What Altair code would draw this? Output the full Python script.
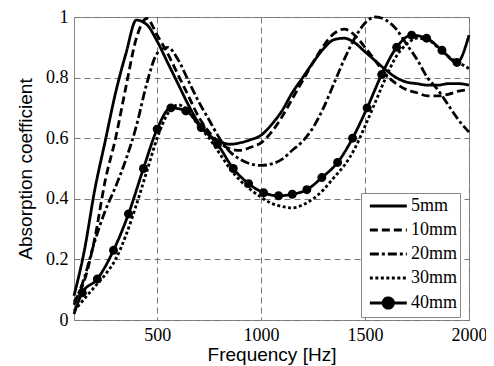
import altair as alt
import pandas as pd

freq = list(range(100, 2001, 50))

mm5 = [0.08, 0.23, 0.43, 0.59, 0.75, 0.88, 0.99, 0.975, 0.92, 0.85, 0.78, 0.71, 0.65, 0.61, 0.59, 0.58,
       0.585, 0.595, 0.61, 0.645, 0.69, 0.75, 0.80, 0.85, 0.895, 0.925, 0.93, 0.915, 0.885, 0.855, 0.825,
       0.80, 0.785, 0.78, 0.775, 0.775, 0.78, 0.78, 0.775]
mm10 = [0.06, 0.13, 0.27, 0.46, 0.60, 0.77, 0.93, 0.995, 0.94, 0.88, 0.81, 0.74, 0.67, 0.62, 0.585, 0.565,
        0.56, 0.57, 0.585, 0.62, 0.67, 0.73, 0.79, 0.85, 0.905, 0.945, 0.96, 0.94, 0.90, 0.855, 0.81,
        0.78, 0.76, 0.75, 0.74, 0.74, 0.745, 0.755, 0.76]
mm20 = [0.05, 0.14, 0.26, 0.36, 0.44, 0.53, 0.64, 0.78, 0.88, 0.90, 0.86, 0.79, 0.72, 0.66, 0.60, 0.555,
        0.53, 0.515, 0.51, 0.515, 0.53, 0.56, 0.59, 0.635, 0.70, 0.78, 0.86, 0.93, 0.98, 1.0, 0.99,
        0.96, 0.91, 0.86, 0.80, 0.76, 0.71, 0.66, 0.62]
mm30 = [0.03, 0.07, 0.11, 0.15, 0.20, 0.28, 0.38, 0.49, 0.60, 0.68, 0.71, 0.69, 0.64, 0.60, 0.55, 0.50,
        0.46, 0.43, 0.405, 0.385, 0.375, 0.37, 0.38, 0.40, 0.43, 0.47, 0.51, 0.565, 0.64, 0.72, 0.80,
        0.87, 0.91, 0.93, 0.925, 0.90, 0.87, 0.85, 0.83]

freq40 = [100, 140, 212, 290, 362, 434, 500, 566, 638, 712, 790, 866, 940, 1012, 1084, 1150, 1220,
          1292, 1368, 1440, 1510, 1580, 1652, 1724, 1796, 1870, 1942, 2000]
mm40 = [0.02, 0.09, 0.135, 0.23, 0.35, 0.50, 0.63, 0.70, 0.69, 0.635, 0.58, 0.50, 0.45, 0.42, 0.41,
        0.415, 0.43, 0.47, 0.52, 0.60, 0.70, 0.81, 0.90, 0.94, 0.93, 0.89, 0.85, 0.94]

series = ["5mm", "10mm", "20mm", "30mm", "40mm"]
dashes = [[1, 0], [8, 4], [9, 3, 3, 3], [3, 2.5], [1, 0]]

rows = []
for name, vals in zip(series[:4], [mm5, mm10, mm20, mm30]):
    for f, v in zip(freq, vals):
        rows.append({"series": name, "freq": f, "value": v})
for f, v in zip(freq40, mm40):
    rows.append({"series": "40mm", "freq": f, "value": v})
df = pd.DataFrame(rows)

sans = "Liberation Sans, Arial, sans-serif"
serif = "Liberation Serif, Times New Roman, serif"

x = alt.X("freq:Q", scale=alt.Scale(domain=[100, 2000], nice=False, zero=False),
          axis=alt.Axis(title="Frequency [Hz]", values=[500, 1000, 1500, 2000], format="d",
                        labelFlush=False))
y = alt.Y("value:Q", scale=alt.Scale(domain=[0, 1], nice=False),
          axis=alt.Axis(title="Absorption coefficient", values=[0, 0.2, 0.4, 0.6, 0.8, 1], format="~g"))

# legend sample: a line twice the nominal symbol width, drawn to the right of the symbol origin
line_path = "M-0.45,0H3.55"
dot_path = "M-0.45,0H3.55M1.0,0a0.55,0.55 0 1,0 1.1,0a0.55,0.55 0 1,0 -1.1,0"

lines = alt.Chart(df).mark_line(color="black", strokeWidth=2.8, interpolate="monotone").encode(
    x=x, y=y,
    detail="series:N",
    strokeDash=alt.StrokeDash(
        "series:N",
        scale=alt.Scale(domain=series, range=dashes),
        legend=alt.Legend(
            title=None, orient="none", legendX=287, legendY=176,
            symbolType=alt.ExprRef(expr="datum.value === '40mm' ? '" + dot_path + "' : '" + line_path + "'"),
            symbolFillColor=alt.ExprRef(expr="datum.value === '40mm' ? 'black' : 'transparent'"),
            symbolSize=342, symbolStrokeWidth=3,
            symbolStrokeColor="black",
            labelFont=serif, labelFontSize=18, labelColor="black", labelOffset=26,
            strokeColor="#888", fillColor="white", padding=2, rowPadding=4,
        ),
    ),
)

points = alt.Chart(df).transform_filter(
    "datum.series === '40mm' && datum.freq > 120 && datum.freq < 1990"
).mark_point(filled=True, color="black", size=80, opacity=1).encode(x=x, y=y)

chart = alt.layer(lines, points).properties(
    width=395, height=303,
    autosize=alt.AutoSizeParams(type="none"),
    padding={"left": 66, "top": 9, "right": 17, "bottom": 46},
).configure_view(stroke="#888", strokeWidth=1).configure_axis(
    domain=False, ticks=False,
    grid=True, gridDash=[6, 4], gridColor="#777", gridWidth=1,
    labelFont=serif, labelFontSize=18, labelColor="black",
    titleFont=sans, titleFontSize=19, titleFontWeight="normal", titleColor="black",
).configure_axisX(labelPadding=6, titlePadding=1).configure_axisY(labelPadding=6, titlePadding=10)

chart.save("out.html", embed_options={"renderer": "svg", "actions": False})
